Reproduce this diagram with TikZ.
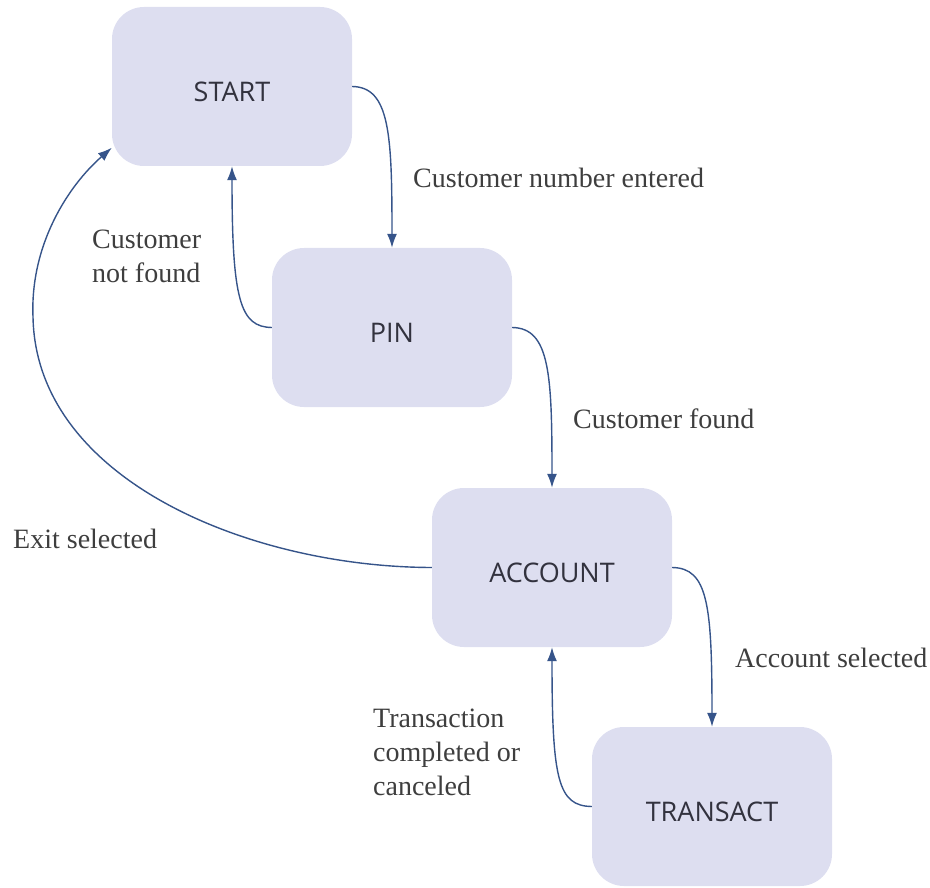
\documentclass[tikz,border=0pt]{standalone}
\usepackage{fontspec}
\setmainfont{Liberation Serif}
\newfontfamily\boxfont{Open Sans}
\usetikzlibrary{arrows.meta}
\definecolor{boxfill}{RGB}{221,222,240}
\definecolor{boxtext}{RGB}{50,50,62}
\definecolor{arrcol}{RGB}{54,84,138}
\definecolor{labcol}{RGB}{62,62,62}
\tikzset{
  statebox/.style={rounded corners=32pt, fill=boxfill, draw=none,
    minimum width=240pt, minimum height=159pt, inner sep=0pt,
    text height=30pt, text depth=0pt, text=boxtext,
    font=\boxfont\fontsize{27}{32}\selectfont},
  trans/.style={draw=arrcol, line width=1.4pt,
    -{Latex[length=14pt,width=10pt]}},
  lab/.style={anchor=base west, align=left, inner sep=0pt, text=labcol,
    font=\fontsize{28}{34}\selectfont}
}
\begin{document}
\begin{tikzpicture}[x=1pt,y=-1pt]
\useasboundingbox (0,0) rectangle (930,888);
\node[statebox] (start) at (232,86.5) {START};
\node[statebox] (pin) at (392,327.5) {PIN};
\node[statebox] (account) at (552,567.5) {ACCOUNT};
\node[statebox] (transact) at (712,806.5) {TRANSACT};

\draw[trans] (start.east) .. controls (390,87) and (392,135) .. (pin.north);
\draw[trans] (pin.west) .. controls (240,327) and (232,300) .. (start.south);
\draw[trans] (pin.east) .. controls (550,328) and (552,375) .. (account.north);
\draw[trans] (account.west) .. controls (250,567) and (36,480) .. (33,317)
   .. controls (30,245) and (68,186) .. (start.207);
\draw[trans] (account.east) .. controls (708,568) and (712,605) .. (transact.north);
\draw[trans] (transact.west) .. controls (558,806) and (552,780) .. (account.south);

\node[lab] (l1) at (413,188) {Customer number entered};
\node[lab] (l2) at (92,282) {Customer\\not found};
\node[lab] (l3) at (573,428) {Customer found};
\node[lab] (l4) at (13,548) {Exit selected};
\node[lab] (l5) at (735,667) {Account selected};
\node[lab] (l6) at (373,795) {Transaction\\completed or\\canceled};
\end{tikzpicture}
\end{document}
